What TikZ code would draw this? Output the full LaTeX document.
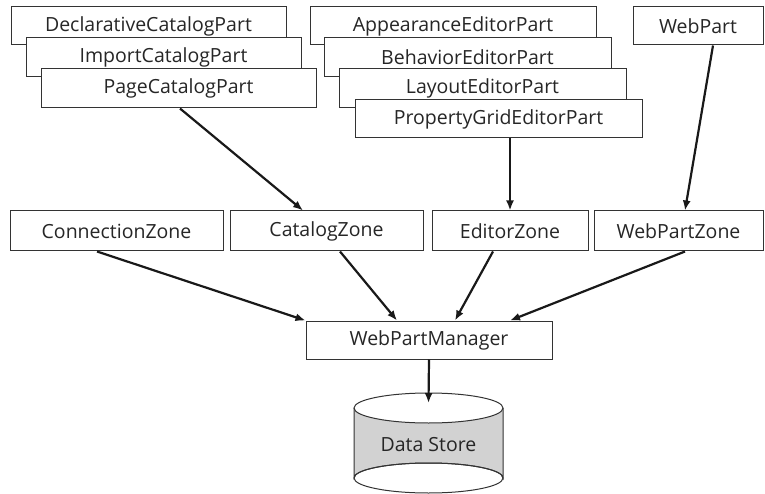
\documentclass[tikz,border=0pt]{standalone}
\usepackage{fontspec}
\setmainfont{Open Sans}
\usetikzlibrary{arrows.meta}
\definecolor{boxline}{HTML}{333333}
\definecolor{txt}{HTML}{262626}
\definecolor{cylfill}{HTML}{D2D2D2}
\tikzset{
  box/.style={draw=boxline, line width=1pt, fill=white, text=txt, inner sep=0pt,
    font=\fontsize{19.5}{21}\selectfont, anchor=center},
  conn/.style={draw=black!90, line width=2.2pt, -{Latex[length=10pt,width=8pt]}},
}
\begin{document}
\begin{tikzpicture}[x=1pt,y=-1pt]
\useasboundingbox (0,0) rectangle (765,494);
% catalog parts
\node[box, minimum width=275pt, minimum height=38pt] (decl) at (148.5,26) {DeclarativeCatalogPart};
\node[box, minimum width=275pt, minimum height=39pt] (import) at (163.5,57.5) {ImportCatalogPart};
\node[box, minimum width=275pt, minimum height=39pt] (page) at (178.5,88.5) {PageCatalogPart};
% editor parts
\node[box, minimum width=286pt, minimum height=38pt] (appear) at (453,26) {AppearanceEditorPart};
\node[box, minimum width=287pt, minimum height=39pt] (behav) at (467.5,57.5) {BehaviorEditorPart};
\node[box, minimum width=287pt, minimum height=39pt] (layout) at (482.5,88.5) {LayoutEditorPart};
\node[box, minimum width=287pt, minimum height=38pt] (propgrid) at (498.5,119) {PropertyGridEditorPart};
% webpart
\node[box, minimum width=130pt, minimum height=38pt] (webpart) at (698,26) {WebPart};
% zones
\node[box, minimum width=213pt, minimum height=40pt] (connzone) at (116.5,231) {ConnectionZone};
\node[box, minimum width=193pt, minimum height=40pt] (catzone) at (326.5,231) {CatalogZone};
\node[box, minimum width=156pt, minimum height=40pt] (edzone) at (510,231) {EditorZone};
\node[box, minimum width=169pt, minimum height=40pt] (wpzone) at (678.5,231) {WebPartZone};
% manager
\node[box, minimum width=246pt, minimum height=38pt] (wpm) at (429,340) {WebPartManager};
% data store cylinder
\fill[cylfill] (354,408) -- (354,478) arc[start angle=180,end angle=360,x radius=74.5,y radius=15] -- (503,408) arc[start angle=0,end angle=180,x radius=74.5,y radius=15] -- cycle;
\draw[boxline, line width=1pt] (354,408) -- (354,478) arc[start angle=180,end angle=360,x radius=74.5,y radius=15] -- (503,408);
\draw[boxline, line width=1pt] (428.5,478) ellipse[x radius=74.5,y radius=15];
\draw[boxline, line width=1pt] (428.5,408) ellipse[x radius=74.5,y radius=15];
\node[text=txt, font=\fontsize{19.5}{21}\selectfont] (store) at (428.5,445) {Data Store};
\coordinate (storetop) at (428.5,403);
% connectors
\draw[conn] ([xshift=1.5pt]page.south) -- ([xshift=-23.5pt]catzone.north);
\draw[conn] ([xshift=11.5pt]propgrid.south) -- (edzone.north);
\draw[conn] ([xshift=15pt]webpart.south) -- ([xshift=6.5pt]wpzone.north);
\draw[conn] ([xshift=-19.5pt]connzone.south) -- (wpm.north west);
\draw[conn] ([xshift=13.5pt]catzone.south) -- ([xshift=-32pt]wpm.north);
\draw[conn] ([xshift=-17pt]edzone.south) -- ([xshift=26pt]wpm.north);
\draw[conn] ([xshift=6.5pt]wpzone.south) -- ([xshift=81pt]wpm.north);
\draw[conn] (wpm.south) -- (storetop);
\end{tikzpicture}
\end{document}
